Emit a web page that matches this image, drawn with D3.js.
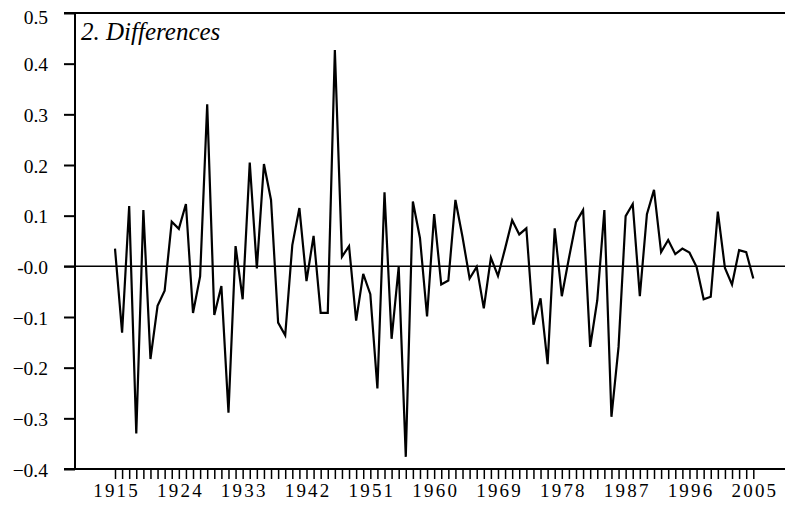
<!DOCTYPE html>
<html>
<head>
<meta charset="utf-8">
<script src="https://d3js.org/d3.v7.min.js"></script>
<style>
  body { margin: 0; background: #fff; }
  text { font-family: "Liberation Serif", "Times New Roman", serif; fill: #000; }
</style>
</head>
<body>
<div id="chart"></div>
<script>
var svgWidth = 785;
var svgHeight = 506;

// yearly differences, 1915-2005
var startYear = 1915;
var diffs = [
  0.035, -0.131, 0.119, -0.330, 0.111, -0.183, -0.078, -0.048, 0.088, 0.074,
  0.123, -0.092, -0.020, 0.320, -0.096, -0.039, -0.289, 0.040, -0.065, 0.205,
  -0.004, 0.202, 0.131, -0.111, -0.136, 0.042, 0.115, -0.029, 0.060, -0.092,
  -0.092, 0.427, 0.019, 0.040, -0.107, -0.015, -0.055, -0.241, 0.146, -0.143,
  -0.001, -0.376, 0.128, 0.056, -0.099, 0.103, -0.036, -0.028, 0.131, 0.058,
  -0.024, -0.001, -0.083, 0.017, -0.019, 0.035, 0.091, 0.063, 0.075, -0.115,
  -0.063, -0.193, 0.075, -0.059, 0.016, 0.087, 0.111, -0.159, -0.067, 0.111,
  -0.297, -0.159, 0.099, 0.123, -0.059, 0.103, 0.151, 0.028, 0.052, 0.024,
  0.035, 0.027, -0.001, -0.065, -0.060, 0.108, -0.003, -0.036, 0.032, 0.028,
  -0.024
];
var years = diffs.map((d, i) => startYear + i);
var yTicks = [0.5, 0.4, 0.3, 0.2, 0.1, 0, -0.1, -0.2, -0.3, -0.4];
var xLabelYears = [1915, 1924, 1933, 1942, 1951, 1960, 1969, 1978, 1987, 1996, 2005];
var title = "2. Differences";

var data = years.map((yr, i) => ({ year: yr, value: diffs[i] }));

var plotLeft = 75, plotRight = 785, plotTop = 13, plotBottom = 469;

var svg = d3.select("#chart")
    .append("svg")
    .attr("width", svgWidth)
    .attr("height", svgHeight);

// 1915 sits at x=115, 2005 at x=753
var xScale = d3.scaleLinear()
    .domain([1915, 2005])
    .range([115, 753.3]);

var yScale = d3.scaleLinear()
    .domain([-0.4, 0.5])
    .range([plotBottom, plotTop]);

// Left axis
var leftAxis = d3.axisLeft(yScale)
    .tickValues(yTicks)
    .tickSize(11)
    .tickPadding(16)
    .tickFormat(d => (d === 0 ? "-0.0" : d3.format(".1f")(d)));

var yAxisG = svg.append("g")
    .attr("transform", `translate(${plotLeft}, 0)`)
    .call(leftAxis);
yAxisG.select(".domain").remove();
yAxisG.selectAll(".tick line").attr("stroke", "#000").attr("stroke-width", 2);
yAxisG.selectAll(".tick text")
    .attr("font-size", "19.5px")
    .attr("dy", d => (d === 0.5 ? "0.55em" : "0.37em"));

// Bottom axis, a tick for every year
var bottomAxis = d3.axisBottom(xScale)
    .tickValues(years)
    .tickSize(10)
    .tickPadding(5)
    .tickFormat(d => (xLabelYears.indexOf(d) >= 0 ? d : ""));

var xAxisG = svg.append("g")
    .attr("transform", `translate(0, ${plotBottom})`)
    .call(bottomAxis);
xAxisG.select(".domain").remove();
xAxisG.selectAll(".tick line").attr("stroke", "#000").attr("stroke-width", 1.5);
xAxisG.selectAll(".tick text")
    .attr("font-size", "19px")
    .attr("letter-spacing", "2.2px")
    .attr("dx", "1.1px");

// frame lines: left, top, bottom, zero
svg.append("line")
    .attr("x1", plotLeft).attr("x2", plotLeft)
    .attr("y1", plotTop).attr("y2", plotBottom)
    .attr("stroke", "#000").attr("stroke-width", 2);
svg.append("line")
    .attr("x1", plotLeft - 11).attr("x2", plotRight)
    .attr("y1", plotTop).attr("y2", plotTop)
    .attr("stroke", "#000").attr("stroke-width", 2);
svg.append("line")
    .attr("x1", plotLeft - 11).attr("x2", plotRight)
    .attr("y1", plotBottom).attr("y2", plotBottom)
    .attr("stroke", "#000").attr("stroke-width", 2);
svg.append("line")
    .attr("x1", plotLeft - 11).attr("x2", plotRight)
    .attr("y1", yScale(0)).attr("y2", yScale(0))
    .attr("stroke", "#000").attr("stroke-width", 1.5);

// the series
var line = d3.line()
    .x(d => xScale(d.year))
    .y(d => yScale(d.value));

svg.append("path")
    .datum(data)
    .attr("d", line)
    .attr("fill", "none")
    .attr("stroke", "#000")
    .attr("stroke-width", 2.2)
    .attr("stroke-linejoin", "miter");

// panel title
svg.append("text")
    .attr("x", 81)
    .attr("y", 40)
    .attr("font-size", "25px")
    .attr("font-style", "italic")
    .text(title);
</script>
</body>
</html>
